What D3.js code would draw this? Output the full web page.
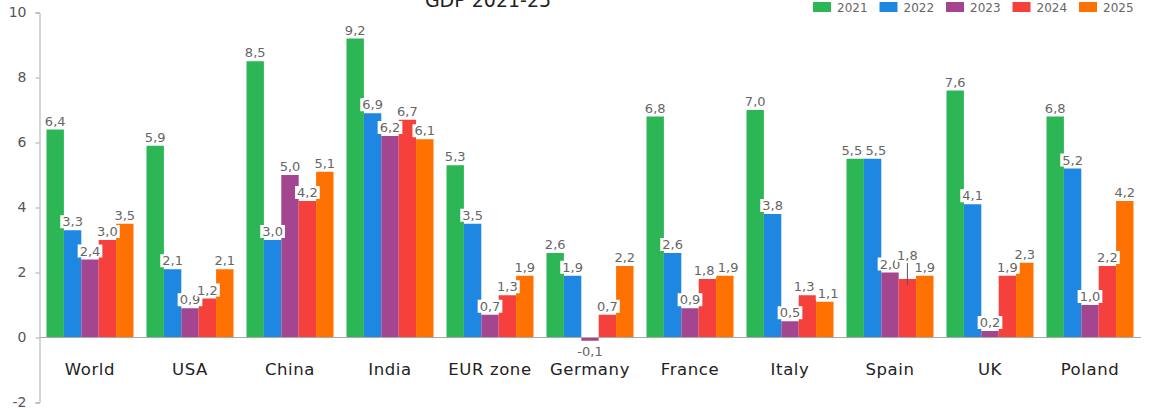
<!DOCTYPE html>
<html>
<head>
<meta charset="utf-8">
<script src="https://cdn.jsdelivr.net/npm/d3@7"></script>
<style>
  body { margin: 0; background: #fff; }
  svg { display: block; font-family: "DejaVu Sans", Verdana, sans-serif; }
</style>
</head>
<body>
<div id="chart"></div>
<script>
// GDP growth by region, 2021-25
var countries = ['World', 'USA', 'China', 'India', 'EUR zone', 'Germany', 'France', 'Italy', 'Spain', 'UK', 'Poland'],
    years = ['2021', '2022', '2023', '2024', '2025'],
    colors = ['#2db655', '#1e87e2', '#a3468f', '#f5403b', '#ff7100'],
    yTicks = [-2, 0, 2, 4, 6, 8, 10],

    gdp2021 = [6.4, 5.9, 8.5, 9.2, 5.3, 2.6, 6.8, 7.0, 5.5, 7.6, 6.8],
    gdp2022 = [3.3, 2.1, 3.0, 6.9, 3.5, 1.9, 2.6, 3.8, 5.5, 4.1, 5.2],
    gdp2023 = [2.4, 0.9, 5.0, 6.2, 0.7, -0.1, 0.9, 0.5, 2.0, 0.2, 1.0],
    gdp2024 = [3.0, 1.2, 4.2, 6.7, 1.3, 0.7, 1.8, 1.3, 1.8, 1.9, 2.2],
    gdp2025 = [3.5, 2.1, 5.1, 6.1, 1.9, 2.2, 1.9, 1.1, 1.9, 2.3, 4.2];

var series = [gdp2021, gdp2022, gdp2023, gdp2024, gdp2025];

var width = 1172,
    height = 408;

var svg = d3.select('#chart').append('svg')
    .attr('width', width)
    .attr('height', height);

var x0 = d3.scaleBand()
    .domain(countries)
    .range([40, 1140])
    .paddingInner(0.13)
    .paddingOuter(0.065);

var x1 = d3.scaleBand()
    .domain(years)
    .range([0, x0.bandwidth()]);

var y = d3.scaleLinear()
    .domain([-2, 10])
    .range([402.5, 12.5]);

var color = d3.scaleOrdinal().domain(years).range(colors);

var fmt = function(v) { return v.toFixed(1).replace('.', ','); };

// flat records
var rows = [];
countries.forEach(function(c, i) {
    years.forEach(function(yr, j) {
        rows.push({ country: c, year: yr, value: series[j][i] });
    });
});

// title (cut at the top in the original)
svg.append('text')
    .attr('x', 488)
    .attr('y', 7)
    .attr('text-anchor', 'middle')
    .attr('font-size', 19)
    .attr('fill', '#222')
    .text('GDP 2021-25');

// y axis
var yAxis = d3.axisLeft(y)
    .tickValues(yTicks)
    .tickSize(4)
    .tickPadding(9)
    .tickFormat(function(d) { return String(d); });

var gy = svg.append('g')
    .attr('transform', 'translate(39.5,0)')
    .call(yAxis);
gy.select('.domain').attr('stroke', '#aaa');
gy.selectAll('.tick line').attr('stroke', '#aaa');
gy.selectAll('.tick text')
    .attr('fill', '#555')
    .attr('font-size', 14)
    .attr('font-family', '"DejaVu Sans", Verdana, sans-serif');

// bars
svg.selectAll('rect.bar')
    .data(rows)
    .enter()
    .append('rect')
    .attr('class', 'bar')
    .attr('x', function(d) { return x0(d.country) + x1(d.year); })
    .attr('width', x1.bandwidth())
    .attr('y', function(d) { return y(Math.max(0, d.value)); })
    .attr('height', function(d) { return Math.abs(y(d.value) - y(0)); })
    .attr('fill', function(d) { return color(d.year); });

// zero line
svg.append('line')
    .attr('x1', 39.5)
    .attr('x2', 1141)
    .attr('y1', y(0))
    .attr('y2', y(0))
    .attr('stroke', '#aaa')
    .attr('stroke-width', 1.2);

// value label positions; lift a label squeezed by both neighbours,
// nudge apart labels sitting side by side at the same height
var labelH = 14, labelW = 24;
rows.forEach(function(d) {
    d.cx = x0(d.country) + x1(d.year) + x1.bandwidth() / 2;
    d.cy = d.value >= 0 ? y(d.value) - 4 : y(d.value) + 15;
    d.lift = 0;
});
function clash(a, b) {
    return b && a.country === b.country &&
        Math.abs(a.cx - b.cx) < labelW && Math.abs(a.cy - b.cy) < labelH - 2;
}
rows.forEach(function(d, i) {
    if (clash(d, rows[i - 1]) && clash(d, rows[i + 1])) d.lift = 15;
});
rows.forEach(function(d, i) {
    var n = rows[i + 1];
    if (!n || n.country !== d.country || d.lift || n.lift) return;
    if (Math.abs(d.cy - n.cy) < 7) {
        var over = labelW - (n.cx - d.cx);
        if (over > 0) { d.cx -= over / 2; n.cx += over / 2; }
    }
});

svg.selectAll('line.leader')
    .data(rows.filter(function(d) { return d.lift > 0; }))
    .enter()
    .append('line')
    .attr('class', 'leader')
    .attr('x1', function(d) { return d.cx; })
    .attr('x2', function(d) { return d.cx; })
    .attr('y1', function(d) { return d.cy - d.lift + 3; })
    .attr('y2', function(d) { return y(d.value) + 6; })
    .attr('stroke', '#555')
    .attr('stroke-width', 1);

var labels = svg.selectAll('g.vlabel')
    .data(rows)
    .enter()
    .append('g')
    .attr('class', 'vlabel')
    .attr('transform', function(d) {
        return 'translate(' + d.cx + ',' + (d.cy - d.lift) + ')';
    });

labels.append('text')
    .attr('text-anchor', 'middle')
    .attr('font-size', 13)
    .attr('fill', '#666')
    .text(function(d) { return fmt(d.value); });

labels.each(function() {
    var g = d3.select(this),
        bb = g.select('text').node().getBBox();
    g.insert('rect', 'text')
        .attr('x', bb.x - 2)
        .attr('y', bb.y + 1)
        .attr('width', bb.width + 4)
        .attr('height', bb.height - 2)
        .attr('fill', '#fff');
});

// category labels
svg.selectAll('text.cat')
    .data(countries)
    .enter()
    .append('text')
    .attr('class', 'cat')
    .attr('x', function(d) { return x0(d) + x0.bandwidth() / 2; })
    .attr('y', 375)
    .attr('text-anchor', 'middle')
    .attr('font-size', 16.5)
    .attr('letter-spacing', 0.6)
    .attr('fill', '#222')
    .text(function(d) { return d; });

// legend
var legend = svg.selectAll('g.legend')
    .data(years)
    .enter()
    .append('g')
    .attr('class', 'legend')
    .attr('transform', function(d, i) { return 'translate(' + (813 + i * 66.5) + ',2)'; });

legend.append('rect')
    .attr('width', 18)
    .attr('height', 10)
    .attr('fill', function(d) { return color(d); });

legend.append('text')
    .attr('x', 24)
    .attr('y', 9.5)
    .attr('font-size', 12)
    .attr('fill', '#666')
    .text(function(d) { return d; });
</script>
</body>
</html>
